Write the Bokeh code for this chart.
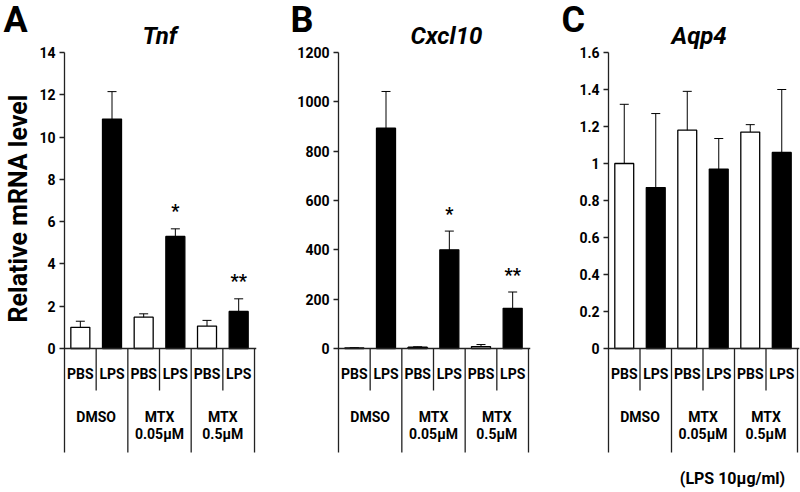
import math
from bokeh.plotting import figure
from bokeh.layouts import row
from bokeh.models import (Range1d, FixedTicker, Whisker, TeeHead, ColumnDataSource,
                          Span, Title)
from bokeh.core.properties import value
from bokeh.embed import file_html
from bokeh.resources import INLINE

# ---------------- data ----------------
conditions = ["PBS", "LPS", "PBS", "LPS", "PBS", "LPS"]
groups = ["DMSO", "MTX\n0.05\u03bcM", "MTX\n0.5\u03bcM"]

tnf_mean = [1.0, 10.85, 1.48, 5.3, 1.06, 1.75]
tnf_err = [0.29, 1.3, 0.16, 0.36, 0.27, 0.6]
tnf_stars = ["", "", "", "*", "", "**"]
tnf_ticks = [0, 2, 4, 6, 8, 10, 12, 14]
tnf_tick_labels = ["0", "2", "4", "6", "8", "10", "12", "14"]

cxcl10_mean = [2, 893, 5, 400, 8, 163]
cxcl10_err = [1, 149, 2, 76, 8, 66]
cxcl10_stars = ["", "", "", "*", "", "**"]
cxcl10_ticks = [0, 200, 400, 600, 800, 1000, 1200]
cxcl10_tick_labels = ["0", "200", "400", "600", "800", "1000", "1200"]

aqp4_mean = [1.0, 0.87, 1.18, 0.97, 1.17, 1.06]
aqp4_err = [0.32, 0.40, 0.21, 0.165, 0.04, 0.34]
aqp4_stars = ["", "", "", "", "", ""]
aqp4_ticks = [0, 0.2, 0.4, 0.6, 0.8, 1.0, 1.2, 1.4, 1.6]
aqp4_tick_labels = ["0", "0.2", "0.4", "0.6", "0.8", "1", "1.2", "1.4", "1.6"]

FONT = "Roboto"
TOP, ZERO, BOTTOM = 52, 348, 452          # page pixel rows
FIG_H = 492


def panel(fig_left, fig_w, frame_left, x6, mean, err, stars, ticks, tick_labels,
          letter, letter_x, gene, gene_x, ylabel=None, note=None):
    ymax = ticks[-1]
    ppu = (ZERO - TOP) / ymax
    s = (x6 - frame_left) / 6.0
    frame_right = x6 + 2

    def yd(py):
        return (ZERO - py) / ppu

    def xd(px):
        return (px - frame_left) / s

    p = figure(width=fig_w, height=FIG_H, output_backend="svg", toolbar_location=None,
               x_range=Range1d(0, xd(frame_right)), y_range=Range1d(yd(FIG_H), ymax),
               x_axis_location=None, title=None,
               min_border_left=frame_left - fig_left,
               min_border_right=fig_left + fig_w - frame_right,
               min_border_top=TOP, min_border_bottom=0)
    p.outline_line_color = None
    p.xgrid.visible = False
    p.ygrid.visible = False
    p.background_fill_color = "white"
    p.border_fill_color = "white"

    ax = p.yaxis[0]
    ax.ticker = FixedTicker(ticks=ticks)
    ax.bounds = (yd(BOTTOM), ymax)
    ax.major_label_overrides = dict(zip(ticks, tick_labels))
    ax.axis_line_width = 1.3
    ax.axis_line_color = "#222222"
    ax.major_tick_line_color = "#222222"
    ax.major_tick_line_width = 1.3
    ax.major_tick_out = 5
    ax.major_tick_in = 0
    ax.minor_tick_line_color = None
    ax.major_label_standoff = 4
    ax.major_label_text_font = FONT
    ax.major_label_text_font_style = "bold"
    ax.major_label_text_font_size = "14px"
    ax.major_label_text_color = "black"

    n = len(mean)
    xs = [i + 0.5 for i in range(n)]
    fills = ["white" if c == "PBS" else "black" for c in conditions]
    p.vbar(x=xs, top=mean, width=0.6, bottom=0, fill_color=fills,
           line_color="black", line_width=1.3)

    src = ColumnDataSource(dict(x=xs, upper=[m + e for m, e in zip(mean, err)],
                                lower=[m - e for m, e in zip(mean, err)]))
    p.add_layout(Whisker(source=src, base="x", upper="upper", lower="lower",
                         line_color="black", line_width=1,
                         upper_head=TeeHead(size=9, line_width=1, line_color="black"),
                         lower_head=TeeHead(size=9, line_width=1, line_color="black")))

    # baseline
    p.add_layout(Span(location=0, dimension="width", line_color="#222222", line_width=1.3))

    # table lines
    per = n // len(groups)
    sx0, sy0, sx1, sy1 = [], [], [], []
    for i in range(1, n + 1):
        sx0.append(i); sx1.append(i); sy0.append(0)
        sy1.append(yd(BOTTOM) if i % per == 0 else yd(390))
    p.segment(x0=sx0, y0=sy0, x1=sx1, y1=sy1, line_color="#222222", line_width=1.3)

    txt = dict(text_font=value(FONT), text_font_style="bold", text_font_size="14px",
               text_align="center", text_color="black", text_baseline="middle")
    p.text(x=xs, y=[yd(373)] * n, text=conditions, **txt)
    gx = [per * g + per / 2 for g in range(len(groups))]
    line1 = [g.split("\n")[0] for g in groups]
    line2 = [g.split("\n")[1] if "\n" in g else "" for g in groups]
    p.text(x=gx, y=[yd(416)] * len(groups), text=line1, **txt)
    p.text(x=gx, y=[yd(433)] * len(groups), text=line2, **txt)

    sy = [m + e + 18 / ppu for m, e in zip(mean, err)]
    p.text(x=xs, y=sy, text=stars, text_baseline="alphabetic",
           text_font=value(FONT), text_font_style="bold", text_font_size="18px",
           text_align="center", text_color="black")

    # gene title (nearest the frame), then panel letter
    p.add_layout(Title(text=gene, align="left", offset=gene_x - frame_left,
                       vertical_align="top", standoff=2, text_font=FONT,
                       text_font_style="bold italic", text_font_size="24px",
                       text_color="black"), "above")
    p.add_layout(Title(text=letter, align="left", offset=letter_x - frame_left,
                       vertical_align="middle", standoff=-43, text_font=FONT,
                       text_font_style="bold", text_font_size="36px",
                       text_color="black"), "above")
    if ylabel:
        p.add_layout(Title(text=ylabel, align="left", offset=FIG_H - 322,
                           vertical_align="middle", standoff=5, text_font=FONT,
                           text_font_style="bold", text_font_size="25px",
                           text_color="black"), "left")
    if note:
        p.text(x=[xd(732)], y=[yd(478)], text=[note], text_baseline="middle",
               text_font=value(FONT), text_font_style="bold", text_font_size="16px",
               text_align="center", text_color="black")
    return p


pA = panel(0, 280, 62, 254, tnf_mean, tnf_err, tnf_stars, tnf_ticks, tnf_tick_labels,
           "A", 1, "Tnf", 140, ylabel="Relative mRNA level")
pB = panel(280, 280, 338, 528, cxcl10_mean, cxcl10_err, cxcl10_stars, cxcl10_ticks,
           cxcl10_tick_labels, "B", 290, "Cxcl10", 410)
pC = panel(560, 240, 608, 797, aqp4_mean, aqp4_err, aqp4_stars, aqp4_ticks,
           aqp4_tick_labels, "C", 561, "Aqp4", 671, note="(LPS 10\u03bcg/ml)")

layout = row(pA, pB, pC)
open("out.html", "w").write(file_html(layout, INLINE))
